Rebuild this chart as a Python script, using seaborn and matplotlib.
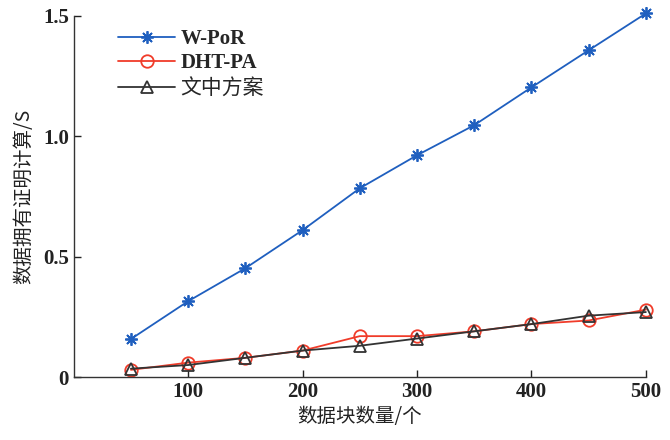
import matplotlib
matplotlib.use("Agg")
import matplotlib.pyplot as plt
import seaborn as sns
import pandas as pd

blocks = [50, 100, 150, 200, 250, 300, 350, 400, 450, 500]
wpor = [0.158, 0.315, 0.452, 0.610, 0.784, 0.921, 1.046, 1.203, 1.357, 1.510]
dhtpa = [0.030, 0.060, 0.080, 0.110, 0.170, 0.170, 0.190, 0.220, 0.235, 0.280]
ours = [0.035, 0.050, 0.080, 0.110, 0.130, 0.160, 0.190, 0.220, 0.255, 0.270]
series_names = ["W-PoR", "DHT-PA", "文中方案"]
xticks = [100, 200, 300, 400, 500]
yticks = [0, 0.5, 1.0, 1.5]
ytick_labels = ["0", "0.5", "1.0", "1.5"]

sns.set_theme(style="ticks")
plt.rcParams['font.family'] = ['Liberation Serif', 'Noto Sans CJK SC', 'DejaVu Sans']

df = pd.DataFrame({
    "x": blocks * 3,
    "y": wpor + dhtpa + ours,
    "s": [series_names[0]] * 10 + [series_names[1]] * 10 + [series_names[2]] * 10,
})

fig = plt.figure(figsize=(6.7, 4.4), dpi=100)
ax = fig.add_axes([0.110, 0.143, 0.854, 0.821])

styles = {
    "W-PoR": dict(color="#1f5fbf", marker=(8, 2, 0), ms=9, mfc="#1f5fbf", mew=1.3),
    "DHT-PA": dict(color="#f03c2a", marker="o", ms=9, mfc="none", mew=1.3),
    "文中方案": dict(color="#333333", marker="^", ms=9, mfc="none", mew=1.3),
}
for name in series_names:
    st = styles[name]
    sub = df[df["s"] == name]
    sns.lineplot(data=sub, x="x", y="y", ax=ax, color=st["color"], lw=1.3,
                 marker=st["marker"], markersize=st["ms"], markerfacecolor=st["mfc"],
                 markeredgecolor=st["color"], markeredgewidth=st["mew"], label=name,
                 clip_on=False)

ax.set_xlim(0, 500)
ax.set_ylim(0, 1.5)
ax.set_xticks(xticks)
ax.set_xticklabels([str(v) for v in xticks])
ax.set_yticks(yticks)
ax.set_yticklabels(ytick_labels)
ax.tick_params(direction="in", length=5, width=1, labelsize=15, colors="#222222")
for lab in ax.get_xticklabels() + ax.get_yticklabels():
    lab.set_fontweight("bold")
sns.despine(ax=ax)
for sp in ["left", "bottom"]:
    ax.spines[sp].set_linewidth(1.0)
    ax.spines[sp].set_color("#333333")

ax.set_xlabel("数据块数量/个", fontsize=14, color="#222222",
              family=['Noto Sans CJK SC', 'DejaVu Sans'], labelpad=3)
ax.set_ylabel("数据拥有证明计算/S", fontsize=14, color="#222222",
              family=['Noto Sans CJK SC', 'DejaVu Sans'], labelpad=6)

leg = ax.legend(loc="upper left", bbox_to_anchor=(0.045, 1.015), frameon=False,
                handlelength=2.75, handletextpad=0.25, fontsize=15, labelspacing=0.2)
for t in leg.get_texts():
    if t.get_text() in ("W-PoR", "DHT-PA"):
        t.set_fontweight("bold")
    else:
        t.set_family(['Noto Sans CJK SC', 'DejaVu Sans'])

fig.savefig("out.png", dpi=100)
